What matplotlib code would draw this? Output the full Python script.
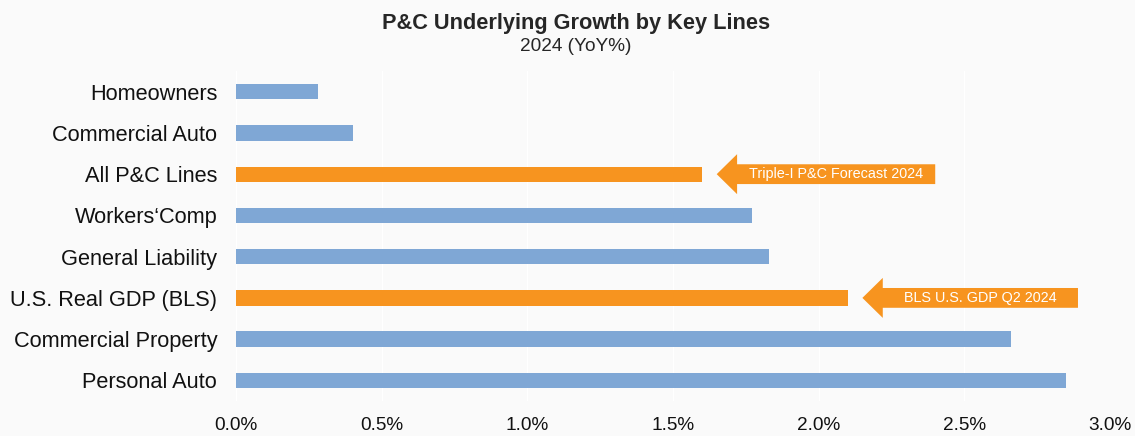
import matplotlib
matplotlib.use("Agg")
import matplotlib.pyplot as plt
from matplotlib.patches import FancyArrow
from matplotlib.ticker import FuncFormatter, MultipleLocator

# Underlying growth by line, 2024 (YoY %), listed top to bottom
categories = [
    "Homeowners",
    "Commercial Auto",
    "All P&C Lines",
    "Workers\u2018Comp",
    "General Liability",
    "U.S. Real GDP (BLS)",
    "Commercial Property",
    "Personal Auto",
]
growth = [0.28, 0.40, 1.60, 1.77, 1.83, 2.10, 2.66, 2.85]
highlighted = ["All P&C Lines", "U.S. Real GDP (BLS)"]

# Callout arrows: (category, label, right end of arrow body)
callouts = [
    ("All P&C Lines", "Triple-I P&C Forecast 2024", 2.40),
    ("U.S. Real GDP (BLS)", "BLS U.S. GDP Q2 2024", 2.89),
]

BLUE = "#7FA7D5"
ORANGE = "#F7941F"
BG = "#FAFAFA"

plt.rcParams["font.family"] = ["Liberation Sans", "DejaVu Sans"]

fig = plt.figure(figsize=(11.35, 4.36), dpi=100, facecolor=BG)
ax = fig.add_axes([0.2079, 0.0803, 0.7701, 0.7567], facecolor=BG)

ypos = list(range(len(categories)))
colors = [ORANGE if c in highlighted else BLUE for c in categories]
ax.barh(ypos, growth, height=0.37, color=colors, zorder=2)

ax.set_xlim(0, 3.0)
ax.set_ylim(len(categories) - 0.5, -0.5)
ax.set_yticks(ypos)
ax.set_yticklabels(categories, fontsize=15.7, color="#111111")
ax.xaxis.set_major_locator(MultipleLocator(0.5))
ax.xaxis.set_major_formatter(FuncFormatter(lambda v, _: f"{v:.1f}%"))
ax.tick_params(axis="x", labelsize=13.7, colors="#111111", length=0, pad=11.5)
ax.tick_params(axis="y", length=0, pad=13.5)
for s in ax.spines.values():
    s.set_visible(False)
ax.grid(axis="x", color="white", linewidth=1.0, zorder=0)
ax.set_axisbelow(True)

for cat, label, x_end in callouts:
    i = categories.index(cat)
    tip = growth[i] + 0.05
    head_len = 0.07
    arrow = FancyArrow(x_end, i, tip - x_end, 0, width=0.48, head_width=0.97,
                       head_length=head_len, length_includes_head=True,
                       color=ORANGE, linewidth=0, zorder=3)
    ax.add_patch(arrow)
    ax.text((tip + head_len + x_end) / 2, i, label, ha="center", va="center",
            color="white", fontsize=10.4, zorder=4)

fig.text(576 / 1135, 0.947, "P&C Underlying Growth by Key Lines", ha="center",
         va="center", fontsize=15.7, fontweight="bold", color="#262626")
fig.text(576 / 1135, 0.894, "2024 (YoY%)", ha="center", va="center",
         fontsize=13.7, color="#262626")

fig.savefig("out.png", dpi=100, facecolor=BG)
